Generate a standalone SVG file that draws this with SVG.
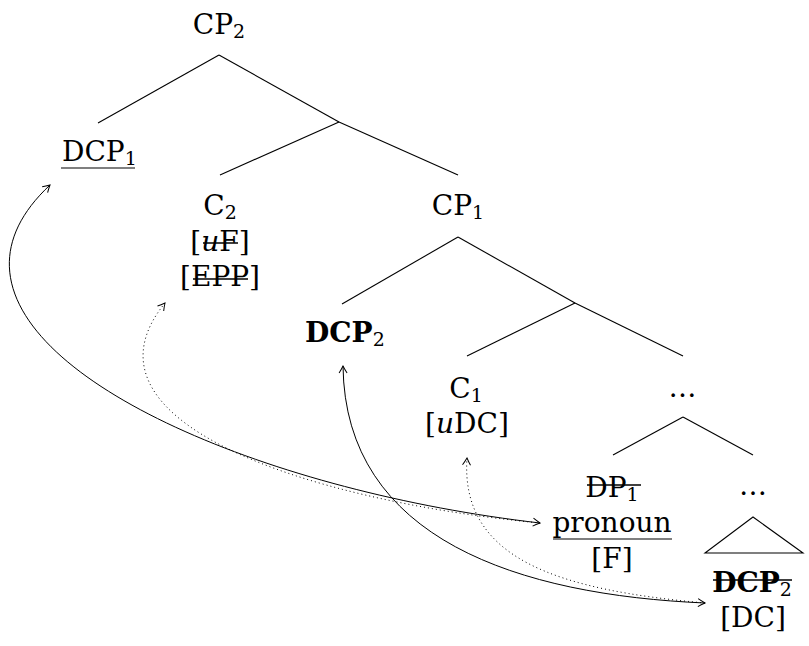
<svg xmlns="http://www.w3.org/2000/svg" width="809" height="646" viewBox="0 0 809 646">
<style>
text{font-family:"DejaVu Serif","Liberation Serif",serif;font-size:28px;fill:#000}
.b{font-weight:bold}
.sub{font-size:19px}
.edge{stroke:#000;stroke-width:1.1;fill:none}
.arc{stroke:#000;stroke-width:1;fill:none}
.dot{stroke:#000;stroke-width:1;fill:none;stroke-dasharray:1 3}
.strike{stroke:#000;stroke-width:1.3}
.ul{stroke:#555;stroke-width:1.4}
</style>
<defs>
<marker id="ah" markerUnits="userSpaceOnUse" markerWidth="12" markerHeight="12" viewBox="-9 -6 12 12" refX="0" refY="0" orient="auto-start-reverse">
<path d="M -7,-4 C -4,-2 -1,-0.5 0,0 C -1,0.5 -4,2 -7,4" fill="none" stroke="#000" stroke-width="1"/>
</marker>
</defs>
<g id="connectors">
<line class="edge" x1="219" y1="55" x2="98" y2="123"/>
<line class="edge" x1="219" y1="55" x2="339" y2="122"/>
<line class="edge" x1="339" y1="122" x2="220" y2="175"/>
<line class="edge" x1="339" y1="122" x2="458" y2="175"/>
<line class="edge" x1="458" y1="237" x2="342" y2="304"/>
<line class="edge" x1="458" y1="237" x2="575" y2="303"/>
<line class="edge" x1="575" y1="303" x2="467" y2="356"/>
<line class="edge" x1="575" y1="303" x2="683" y2="356"/>
<line class="edge" x1="683" y1="417" x2="613" y2="455"/>
<line class="edge" x1="683" y1="417" x2="753" y2="455"/>
<polygon class="edge" points="753,517 705,553 803,553"/>
<path class="arc" d="M 540,523 C 210,485 -105,330 50,185" marker-start="url(#ah)" marker-end="url(#ah)"/>
<path class="dot" d="M 540,523 C 300,500 70,420 165,303" marker-end="url(#ah)"/>
<path class="arc" d="M 705,603 C 520,595 345,540 343,366" marker-start="url(#ah)" marker-end="url(#ah)"/>
<path class="dot" d="M 705,603 C 560,590 460,560 467,458" marker-end="url(#ah)"/>
</g>
<g id="cp2"><text x="219" y="34" text-anchor="middle">CP<tspan class="sub" dy="4">2</tspan></text></g>
<g id="dcp1"><text x="62" y="161">DCP<tspan class="sub" dy="4">1</tspan></text>
<line class="ul" x1="61" y1="168" x2="135" y2="168"/></g>
<g id="c2"><text x="220" y="215" text-anchor="middle">C<tspan class="sub" dy="4">2</tspan></text>
<text x="220" y="251" text-anchor="middle">[<tspan font-style="italic">u</tspan>F]</text>
<line class="strike" x1="203" y1="243" x2="238" y2="243"/>
<text x="220" y="286" text-anchor="middle">[EPP]</text>
<line class="strike" x1="193" y1="279" x2="248" y2="279"/></g>
<g id="cp1"><text x="458" y="215" text-anchor="middle">CP<tspan class="sub" dy="4">1</tspan></text></g>
<g id="dcp2"><text class="b" x="305" y="342">DCP<tspan class="sub" font-weight="normal" dy="4">2</tspan></text></g>
<g id="c1"><text x="466" y="398" text-anchor="middle">C<tspan class="sub" dy="4">1</tspan></text>
<text x="467" y="433" text-anchor="middle">[<tspan font-style="italic">u</tspan>DC]</text></g>
<g id="dots1"><text x="683" y="397" text-anchor="middle" letter-spacing="1">…</text></g>
<g id="dp1"><text x="612" y="497" text-anchor="middle">DP<tspan class="sub" dy="4">1</tspan></text>
<line class="strike" x1="587" y1="485" x2="641" y2="485"/>
<text x="612" y="532" text-anchor="middle">pronoun</text>
<line class="ul" x1="553" y1="539" x2="672" y2="539"/>
<text x="612" y="568" text-anchor="middle">[F]</text></g>
<g id="dots2"><text x="753" y="495" text-anchor="middle">…</text></g>
<g id="dcp2low"><text class="b" x="752" y="592" text-anchor="middle">DCP<tspan class="sub" font-weight="normal" dy="4">2</tspan></text>
<line class="strike" x1="713" y1="580" x2="792" y2="580"/>
<text x="753" y="627" text-anchor="middle">[DC]</text></g>
</svg>
